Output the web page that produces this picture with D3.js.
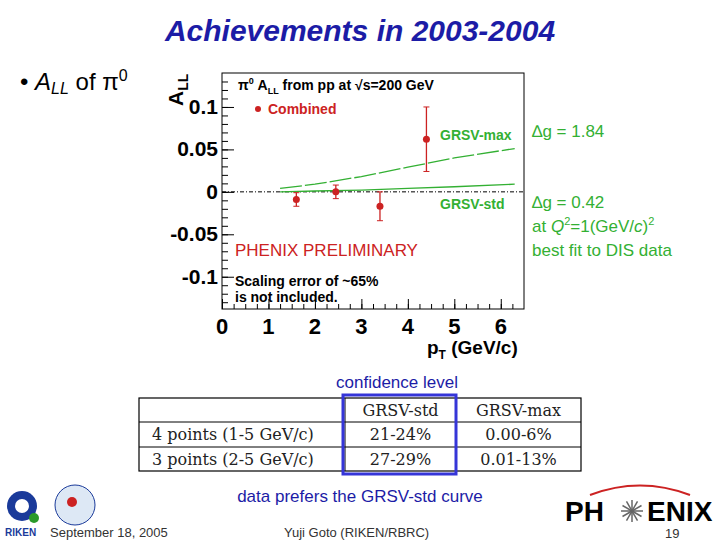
<!DOCTYPE html><html><head><meta charset="utf-8">
<script src="https://cdn.jsdelivr.net/npm/d3@7"></script>
<style>body{margin:0;background:#fff}svg{display:block}</style></head><body>
<svg id="c" width="720" height="540"></svg>
<script>
const ptVals=[1.6,2.45,3.4,4.4];
const allVals=[-0.009,0.0,-0.017,0.062];
const allErr=[0.008,0.008,0.017,0.038];
const curveX=[1.25,2,3,4,5,6.3];
const grsvMax=[0.004,0.009,0.018,0.029,0.040,0.051];
const grsvStd=[0.000,0.001,0.002,0.004,0.006,0.009];
const xTicks=[0,1,2,3,4,5,6];
const yTicks=[-0.1,-0.05,0,0.05,0.1];
const yTickLabels=["-0.1","-0.05","0","0.05","0.1"];
const tableHeader=["","GRSV-std","GRSV-max"];
const tableRows=[["4 points (1-5 GeV/c)","21-24%","0.00-6%"],["3 points (2-5 GeV/c)","27-29%","0.01-13%"]];

const svg=d3.select("#c");
const blue="#1c1ca6", green="#33b033", red="#cc2222";
svg.append("text").attr("x",360).attr("y",41).attr("text-anchor","middle").attr("font-family","Liberation Sans, Arial").attr("font-size",30).attr("font-weight","bold").attr("font-style","italic").attr("fill",blue).text("Achievements in 2003-2004");
const b=svg.append("text").attr("x",20).attr("y",90).attr("font-family","Liberation Sans, Arial").attr("font-size",24);
b.append("tspan").text("•  ");b.append("tspan").attr("font-style","italic").text("A");b.append("tspan").attr("font-style","italic").attr("font-size",16).attr("dy",4).text("LL");
b.append("tspan").attr("dy",-4).text(" of π");b.append("tspan").attr("font-size",16).attr("dy",-9).text("0");

const x=d3.scaleLinear().domain([0,6.5]).range([222,524]);
const y=d3.scaleLinear().domain([-0.138,0.14]).range([309,73]);
const g=svg.append("g");
g.append("rect").attr("x",222).attr("y",73).attr("width",302).attr("height",236).attr("fill","none").attr("stroke","#000").attr("stroke-width",1);
const xa=g.append("g").attr("transform","translate(0,309)").call(d3.axisBottom(x).tickValues(xTicks).tickSize(-10).tickFormat(""));
xa.append("g").call(d3.axisBottom(x).tickValues(d3.range(0,6.5,0.25)).tickSize(-5).tickFormat(""));
xa.selectAll("path").remove();
xTicks.forEach(v=>g.append("text").attr("x",x(v)).attr("y",334).attr("text-anchor","middle").attr("font-family","Liberation Sans, Arial").attr("font-weight","bold").attr("font-size",22).text(v));
const ya=g.append("g").attr("transform","translate(222,0)").call(d3.axisRight(y).tickValues(yTicks).tickSize(12).tickFormat(""));
ya.append("g").call(d3.axisRight(y).tickValues(d3.range(-0.13,0.14,0.01)).tickSize(6).tickFormat(""));
ya.selectAll("path").remove();
yTicks.forEach((v,i)=>g.append("text").attr("x",218).attr("y",y(v)+7).attr("text-anchor","end").attr("font-family","Liberation Sans, Arial").attr("font-weight","bold").attr("font-size",21).text(yTickLabels[i]));
g.append("line").attr("x1",x(0)).attr("x2",x(6.5)).attr("y1",y(0)).attr("y2",y(0)).attr("stroke","#000").attr("stroke-dasharray","4,2,1,2");
const line=d3.line().x((d,i)=>x(curveX[i])).y(d=>y(d));
g.append("path").attr("d",line(grsvMax)).attr("fill","none").attr("stroke",green).attr("stroke-width",1.3).attr("stroke-dasharray","22,3");
g.append("path").attr("d",line(grsvStd)).attr("fill","none").attr("stroke",green).attr("stroke-width",1.3);
ptVals.forEach((p,i)=>{
 g.append("line").attr("x1",x(p)).attr("x2",x(p)).attr("y1",y(allVals[i]-allErr[i])).attr("y2",y(allVals[i]+allErr[i])).attr("stroke",red).attr("stroke-width",1.3);
 [allVals[i]-allErr[i],allVals[i]+allErr[i]].forEach(e=>g.append("line").attr("x1",x(p)-3).attr("x2",x(p)+3).attr("y1",y(e)).attr("y2",y(e)).attr("stroke",red));
 g.append("circle").attr("cx",x(p)).attr("cy",y(allVals[i])).attr("r",3.5).attr("fill",red);
});
const t1=g.append("text").attr("x",238).attr("y",90).attr("font-family","Liberation Sans, Arial").attr("font-weight","bold").attr("font-size",14);
t1.append("tspan").text("π");t1.append("tspan").attr("font-size",9).attr("dy",-6).text("0");t1.append("tspan").attr("dy",6).text(" A");t1.append("tspan").attr("font-size",9).attr("dy",4).text("LL");t1.append("tspan").attr("dy",-4).text(" from pp at √s=200 GeV");
g.append("circle").attr("cx",258).attr("cy",109).attr("r",3).attr("fill",red);
g.append("text").attr("x",268).attr("y",114).attr("fill",red).attr("font-family","Liberation Sans, Arial").attr("font-weight","bold").attr("font-size",14).text("Combined");
g.append("text").attr("x",440).attr("y",140).attr("fill",green).attr("font-family","Liberation Sans, Arial").attr("font-weight","bold").attr("font-size",14).text("GRSV-max");
g.append("text").attr("x",440).attr("y",209).attr("fill",green).attr("font-family","Liberation Sans, Arial").attr("font-weight","bold").attr("font-size",14).text("GRSV-std");
g.append("text").attr("x",235).attr("y",256).attr("fill",red).attr("font-family","Liberation Sans, Arial").attr("font-size",17).text("PHENIX PRELIMINARY");
g.append("text").attr("x",235).attr("y",286).attr("font-family","Liberation Sans, Arial").attr("font-weight","bold").attr("font-size",14).text("Scaling error of ~65%");
g.append("text").attr("x",235).attr("y",302).attr("font-family","Liberation Sans, Arial").attr("font-weight","bold").attr("font-size",14).text("is not included.");
const yl=g.append("text").attr("transform","translate(183,106) rotate(-90)").attr("font-family","Liberation Sans, Arial").attr("font-weight","bold").attr("font-size",21);
yl.append("tspan").text("A");yl.append("tspan").attr("font-size",14).attr("dy",5).text("LL");
const xl=g.append("text").attr("x",427).attr("y",354).attr("font-family","Liberation Sans, Arial").attr("font-weight","bold").attr("font-size",19);
xl.append("tspan").text("p");xl.append("tspan").attr("font-size",12).attr("dy",5).text("T");xl.append("tspan").attr("dy",-5).text(" (GeV/c)");
const af="Liberation Sans, Arial";
svg.append("text").attr("x",532).attr("y",137).attr("fill",green).attr("font-family",af).attr("font-size",17).text("∆g = 1.84");
svg.append("text").attr("x",532).attr("y",208).attr("fill",green).attr("font-family",af).attr("font-size",17).text("∆g = 0.42");
const q=svg.append("text").attr("x",532).attr("y",232).attr("fill",green).attr("font-family",af).attr("font-size",17);
q.append("tspan").text("at ");q.append("tspan").attr("font-style","italic").text("Q");q.append("tspan").attr("font-size",11).attr("dy",-7).text("2");q.append("tspan").attr("dy",7).text("=1(GeV/");q.append("tspan").attr("font-style","italic").text("c");q.append("tspan").text(")");q.append("tspan").attr("font-size",11).attr("dy",-7).text("2");
svg.append("text").attr("x",532).attr("y",256).attr("fill",green).attr("font-family",af).attr("font-size",17).text("best fit to DIS data");
svg.append("text").attr("x",397).attr("y",388).attr("text-anchor","middle").attr("fill",blue).attr("font-family",af).attr("font-size",17).text("confidence level");
const colX=[139,345,456,581], rowY=[398,422,447,471];
svg.append("rect").attr("x",139).attr("y",398).attr("width",442).attr("height",73).attr("fill","none").attr("stroke","#000").attr("stroke-width",1.2);
rowY.slice(1,3).forEach(r=>svg.append("line").attr("x1",139).attr("x2",581).attr("y1",r).attr("y2",r).attr("stroke","#000"));
colX.slice(1,3).forEach(c=>svg.append("line").attr("x1",c).attr("x2",c).attr("y1",398).attr("y2",471).attr("stroke","#000"));
[tableHeader,...tableRows].forEach((row,ri)=>row.forEach((cell,ci)=>{
 svg.append("text").attr("x",ci==0?152:(colX[ci]+colX[ci+1])/2).attr("y",rowY[ri]+18).attr("text-anchor",ci==0?"start":"middle").attr("font-family","DejaVu Serif, Liberation Serif").attr("font-size",16).attr("fill","#222").text(cell);
}));
svg.append("rect").attr("x",343).attr("y",395).attr("width",113).attr("height",79).attr("fill","none").attr("stroke","#3535d8").attr("stroke-width",3);
svg.append("text").attr("x",360).attr("y",502).attr("text-anchor","middle").attr("fill",blue).attr("font-family",af).attr("font-size",17).text("data prefers the GRSV-std curve");
svg.append("text").attr("x",50).attr("y",537).attr("font-family",af).attr("font-size",13).attr("fill","#333").text("September 18, 2005");
svg.append("text").attr("x",284).attr("y",537).attr("font-family",af).attr("font-size",13).attr("fill","#333").text("Yuji Goto (RIKEN/RBRC)");
svg.append("text").attr("x",665).attr("y",538).attr("font-family",af).attr("font-size",13).attr("fill","#333").text("19");
svg.append("path").attr("d","M590,495 Q640,476 690,495").attr("fill","none").attr("stroke",red).attr("stroke-width",2);
svg.append("text").attr("x",565).attr("y",521).attr("font-family",af).attr("font-weight","bold").attr("font-size",28).text("PH");
svg.append("text").attr("x",647).attr("y",521).attr("font-family",af).attr("font-weight","bold").attr("font-size",28).text("ENIX");
d3.range(0,360,30).forEach(a=>{const r=a*Math.PI/180;svg.append("line").attr("x1",632).attr("y1",511).attr("x2",632+11*Math.cos(r)).attr("y2",511+11*Math.sin(r)).attr("stroke","#666").attr("stroke-width",1.5);});
svg.append("circle").attr("cx",22).attr("cy",506).attr("r",15).attr("fill","#1a3a9a");
svg.append("circle").attr("cx",22).attr("cy",506).attr("r",7).attr("fill","#fff");
svg.append("circle").attr("cx",34).attr("cy",518).attr("r",5).attr("fill","#2a9a2a");
svg.append("text").attr("x",5).attr("y",536).attr("font-family",af).attr("font-weight","bold").attr("font-size",10).attr("fill","#1a3a9a").text("RIKEN");
svg.append("circle").attr("cx",75).attr("cy",505).attr("r",20).attr("fill","#dde8f5").attr("stroke","#1a3a9a");
svg.append("circle").attr("cx",72).attr("cy",502).attr("r",5).attr("fill",red);
</script></body></html>
